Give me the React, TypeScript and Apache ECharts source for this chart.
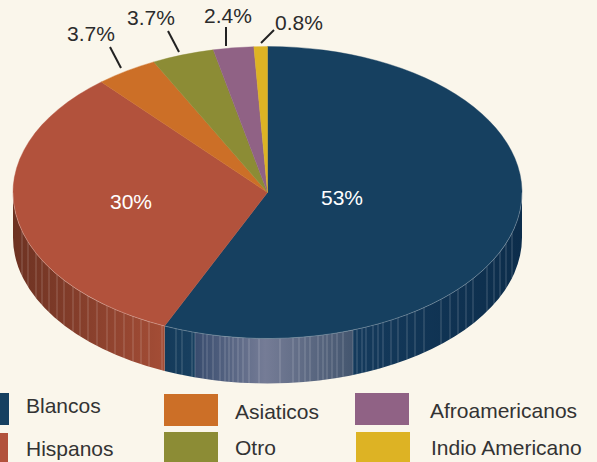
import React, { useEffect, useRef } from "react";
import * as echarts from "echarts";

const CATEGORIES = ["Blancos", "Hispanos", "Asiaticos", "Otro", "Afroamericanos", "Indio Americano"];
const VALUES = [53, 30, 3.7, 3.7, 2.4, 0.8];

const COLORS = ["#164060", "#b2523c", "#cc6f27", "#8c8c35", "#906285", "#ddb324"];
const FONT = "'Liberation Sans', Arial, sans-serif";
const BG = "#faf6eb";

const CX = 267.5;
const CY = 192.5;
const RX = 254.5;
const RY = 146;
const DEPTH = 45;

// value-label placement: [text x, text y, leader x1, y1, x2, y2]; leaders only for the small slices
const LABEL_LAYOUT: number[][] = [
  [342, 197],
  [131, 201],
  [91, 33, 110, 47, 121, 68],
  [151, 17, 168, 31, 179, 52],
  [228, 15, 226, 27, 226, 46],
  [299, 22, 274, 30, 261, 43],
];
// legend placement: [swatch x, y, w, h, text x, text y]
const LEGEND_LAYOUT: number[][] = [
  [0, 393, 9, 32, 26, 405],
  [0, 433, 8, 29, 26, 448],
  [164, 394, 54, 32, 235, 411],
  [164, 432, 54, 30, 235, 447],
  [355, 393, 54, 32, 430, 410],
  [356, 432, 54, 30, 431, 447],
];
// decorative facet seams of the pie's wall
const WALL_SEAMS = [
  22, 28, 36, 42, 49, 57, 64, 73, 80, 88, 97, 107, 115, 124, 133, 141, 149, 162, 176, 182, 192, 195, 203, 207, 213,
  220, 225, 229, 233, 238, 243, 249, 259, 280, 293, 299, 305, 310, 318, 323, 327, 332, 337, 343, 353, 357, 362, 366,
  373, 378, 383, 391, 398, 407, 415, 424, 441, 450, 458, 466, 473, 487, 494, 500, 506, 512,
];

const TOTAL = VALUES.reduce((a, b) => a + b, 0);
const px = (deg: number) => CX + RX * Math.sin((deg * Math.PI) / 180);
const py = (deg: number) => CY - RY * Math.cos((deg * Math.PI) / 180);
const arcTo = (deg: number, large: number, sweep: number, dy = 0) =>
  `A${RX} ${RY} 0 ${large} ${sweep} ${px(deg)} ${py(deg) + dy}`;

function startAngle(index: number) {
  let sum = 0;
  for (let i = 0; i < index; i++) sum += VALUES[i];
  return (sum / TOTAL) * 360;
}

function wallFill(index: number) {
  if (index === 0) {
    const a = px(startAngle(1));
    const b = CX + RX;
    const at = (x: number) => (x - a) / (b - a);
    return new echarts.graphic.LinearGradient(
      a, 0, b, 0,
      [
        { offset: 0, color: "#143a5a" },
        { offset: at(194.5), color: "#184060" },
        { offset: at(195.5), color: "#384c6e" },
        { offset: at(265), color: "#757c96" },
        { offset: at(352.5), color: "#44566f" },
        { offset: at(353.5), color: "#143a5c" },
        { offset: 1, color: "#0c2d4b" },
      ],
      true
    );
  }
  return new echarts.graphic.LinearGradient(
    CX - RX, 0, px(startAngle(1)), 0,
    [
      { offset: 0, color: "#6d3222" },
      { offset: 1, color: "#a44d36" },
    ],
    true
  );
}

function renderSlice(params: any, api: any) {
  const i = params.dataIndex;
  const a0 = startAngle(i);
  const a1 = a0 + (api.value(1) / TOTAL) * 360;
  const children: any[] = [];

  // wall: only the part of the slice facing the viewer
  const w0 = Math.max(a0, 90);
  const w1 = Math.min(a1, 270);
  if (w1 > w0) {
    const xa = px(w0);
    const xb = px(w1);
    children.push({
      type: "path",
      shape: {
        pathData: `M${xa} ${py(w0)}${arcTo(w1, 0, 1)}L${xb} ${py(w1) + DEPTH}${arcTo(w0, 0, 0, DEPTH)}Z`,
      },
      style: { fill: wallFill(i) },
    });
    const lo = Math.min(xa, xb);
    const hi = Math.max(xa, xb);
    WALL_SEAMS.filter((x) => x > lo && x < hi).forEach((x) => {
      const y = CY + RY * Math.sqrt(1 - ((x - CX) / RX) ** 2);
      children.push({
        type: "line",
        shape: { x1: x, y1: y, x2: x, y2: y + DEPTH },
        style: { stroke: "rgba(255,255,255,0.22)", lineWidth: 1 },
      });
    });
  }

  // top face
  const large = a1 - a0 > 180 ? 1 : 0;
  children.push({
    type: "path",
    shape: { pathData: `M${CX} ${CY}L${px(a0)} ${py(a0)}${arcTo(a1, large, 1)}Z` },
    style: { fill: COLORS[i], stroke: COLORS[i], lineWidth: 0.4 },
  });
  if (w1 > w0) {
    children.push({
      type: "path",
      shape: { pathData: `M${px(w0)} ${py(w0)}${arcTo(w1, 0, 1)}` },
      style: { fill: "none", stroke: "rgba(255,255,255,0.25)", lineWidth: 1 },
    });
  }

  // value label
  const l = LABEL_LAYOUT[i];
  if (l.length > 2) {
    children.push({
      type: "line",
      shape: { x1: l[2], y1: l[3], x2: l[4], y2: l[5] },
      style: { stroke: "#222222", lineWidth: 2 },
    });
  }
  children.push({
    type: "text",
    style: {
      text: `${api.value(1)}%`,
      x: l[0],
      y: l[1],
      align: "center",
      verticalAlign: "middle",
      fill: i < 2 ? "#ffffff" : "#2b2b2b",
      fontSize: 21,
      fontFamily: FONT,
    },
  });
  return { type: "group", children };
}

export default function App() {
  const ref = useRef<HTMLDivElement>(null);
  useEffect(() => {
    document.body.style.margin = "0";
    const chart = echarts.init(ref.current!, null, { renderer: "svg" });
    const legendEls: any[] = [];
    CATEGORIES.forEach((name, i) => {
      const [x, y, w, h, tx, ty] = LEGEND_LAYOUT[i];
      legendEls.push({ type: "rect", shape: { x, y, width: w, height: h }, style: { fill: COLORS[i] } });
      legendEls.push({
        type: "text",
        x: tx,
        y: ty,
        style: { text: name, fill: "#333333", fontSize: 21, fontFamily: FONT, verticalAlign: "middle" },
      });
    });
    chart.setOption({
      animation: false,
      backgroundColor: BG,
      graphic: legendEls,
      series: [
        {
          type: "custom",
          coordinateSystem: "none",
          renderItem: renderSlice,
          data: CATEGORIES.map((name, i) => ({ name, value: [i, VALUES[i]] })),
        },
      ],
    });
    return () => chart.dispose();
  }, []);
  return <div ref={ref} style={{ width: 597, height: 462 }} />;
}
